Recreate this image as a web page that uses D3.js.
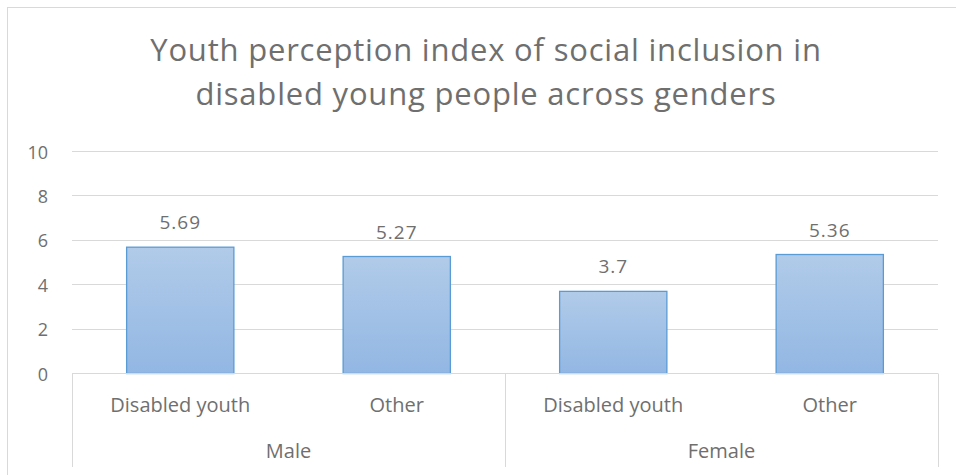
<!DOCTYPE html>
<html><head><meta charset="utf-8">
<script src="https://cdn.jsdelivr.net/npm/d3@7"></script>
<style>body{margin:0;background:#fff}svg{display:block}text{font-family:"Open Sans",sans-serif;fill:#6f6f6f}</style>
</head><body><svg id="c" width="956" height="475"></svg>
<script>
const titleLines = ["Youth perception index of social inclusion in", "disabled young people across genders"];
const groups = ["Male", "Female"];
const subcats = ["Disabled youth", "Other"];
const values = [5.69, 5.27, 3.7, 5.36];
const valueLabels = ["5.69", "5.27", "3.7", "5.36"];
const yTicks = [0, 2, 4, 6, 8, 10];

const svg = d3.select("#c");
const m = {left: 72, right: 938, top: 151, bottom: 373};

svg.append("rect").attr("x", 7.5).attr("y", 7.5).attr("width", 970).attr("height", 490)
  .attr("fill", "#fff").attr("stroke", "#d9d9d9").attr("stroke-width", 1);

titleLines.forEach((t, i) => svg.append("text").attr("text-anchor", "middle")
  .style("font-size", "31px").style("letter-spacing", "0.8px")
  .attr("x", 486).attr("y", 61 + i * 43.5).text(t));

const cats = [];
groups.forEach(g => subcats.forEach(s => cats.push(g + "|" + s)));

const x = d3.scaleBand().domain(cats).range([m.left, m.right]).paddingInner(0.5).paddingOuter(0.25);
const y = d3.scaleLinear().domain([0, 10]).range([m.bottom, m.top]);

// gridlines
svg.append("g").selectAll("line").data(yTicks.filter(d => d > 0)).join("line")
  .attr("x1", m.left).attr("x2", m.right)
  .attr("y1", d => Math.round(y(d)) + 0.5).attr("y2", d => Math.round(y(d)) + 0.5)
  .attr("stroke", "#d9d9d9").attr("stroke-width", 1);

// y axis labels
const yAxis = d3.axisLeft(y).tickValues(yTicks).tickSize(0).tickPadding(0);
const ga = svg.append("g").attr("transform", `translate(48,0)`).call(yAxis);
ga.select(".domain").remove();
ga.selectAll("text").attr("dy", null).attr("y", 7)
  .style("font-size", "18px").attr("fill", "#6f6f6f").style("font-family", "'Open Sans',sans-serif");

// gradient
const defs = svg.append("defs");
const grad = defs.append("linearGradient").attr("id", "bg").attr("x1", 0).attr("y1", 0).attr("x2", 0).attr("y2", 1);
grad.append("stop").attr("offset", 0).attr("stop-color", "#b1cbe9");
grad.append("stop").attr("offset", 1).attr("stop-color", "#92b7e3");

svg.append("g").selectAll("rect").data(values).join("rect")
  .attr("x", (d, i) => x(cats[i]) + 0.5)
  .attr("y", d => y(d) + 0.5)
  .attr("width", x.bandwidth() - 1)
  .attr("height", d => y(0) - y(d))
  .attr("fill", "url(#bg)").attr("stroke", "#5b9bd5").attr("stroke-width", 1.3);

// data labels
svg.append("g").selectAll("text").data(values).join("text")
  .attr("x", (d, i) => x(cats[i]) + x.bandwidth() / 2)
  .attr("y", d => y(d) - 17.5)
  .attr("text-anchor", "middle").style("font-size", "19px").style("letter-spacing", "1px")
  .text((d, i) => valueLabels[i]);

// category axis
const baseY = Math.round(y(0)) + 0.5;
svg.append("line").attr("x1", m.left).attr("x2", m.right).attr("y1", baseY).attr("y2", baseY)
  .attr("stroke", "#d9d9d9").attr("stroke-width", 1);
const step = (m.right - m.left) / groups.length;
const seps = d3.range(groups.length + 1).map(i => m.left + i * step);
svg.append("g").selectAll("line").data(seps).join("line")
  .attr("x1", d => Math.round(d) + 0.5).attr("x2", d => Math.round(d) + 0.5)
  .attr("y1", baseY).attr("y2", 467)
  .attr("stroke", "#d9d9d9").attr("stroke-width", 1);

svg.append("g").selectAll("text").data(cats).join("text")
  .attr("x", d => x(d) + x.bandwidth() / 2).attr("y", 412)
  .attr("text-anchor", "middle").style("font-size", "20px")
  .text(d => d.split("|")[1]);

svg.append("g").selectAll("text").data(groups).join("text")
  .attr("x", (d, i) => m.left + (i + 0.5) * step).attr("y", 458)
  .attr("text-anchor", "middle").style("font-size", "20px")
  .text(d => d);
</script></body></html>
